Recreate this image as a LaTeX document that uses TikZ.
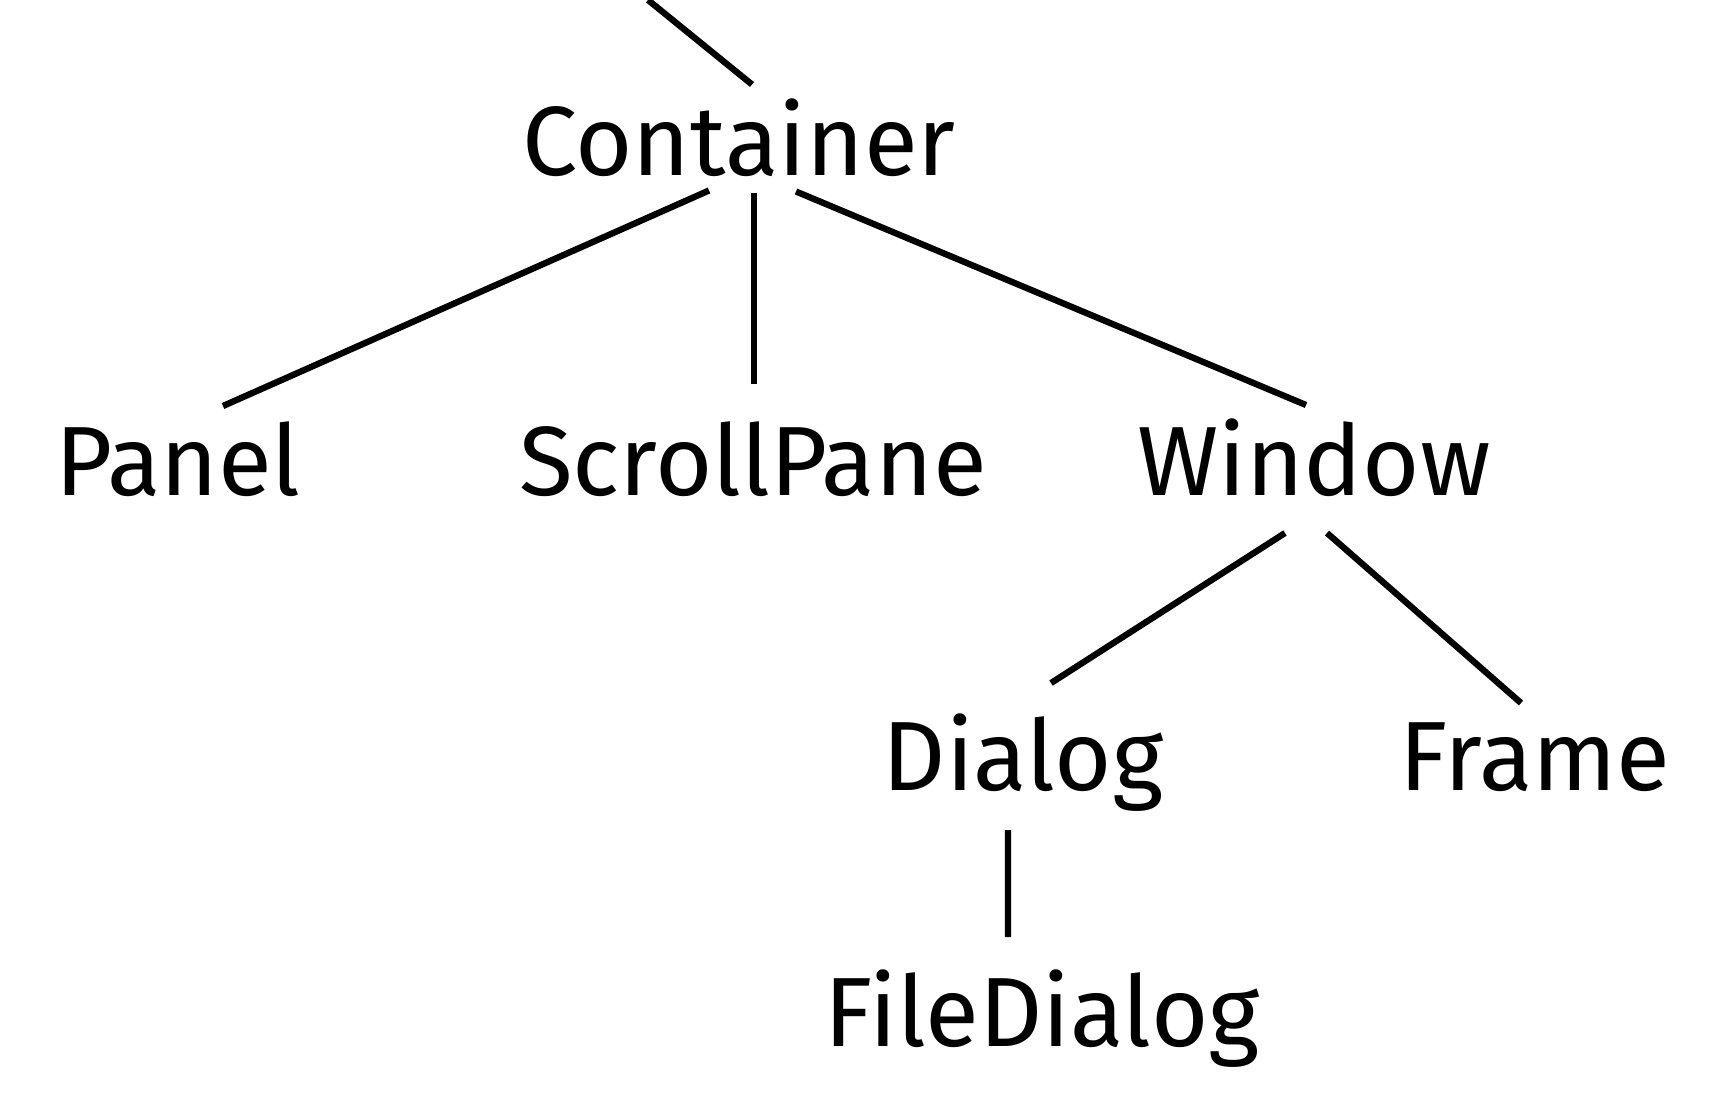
\documentclass[tikz,border=0pt]{standalone}
\usepackage{fontspec}
\setmainfont{Fira Sans}
\usetikzlibrary{positioning}

\begin{document}
\begin{tikzpicture}[font=\fontsize{28}{34}\selectfont,
  cls/.style={inner sep=0pt,anchor=base},
  ln/.style={line width=1.8pt}]
\useasboundingbox (0,0) rectangle (17.30,-11.08);
\node[cls] (cont) at (7.39,-1.75) {Container};
\node[cls] (panel) at (1.78,-4.95) {Panel};
\node[cls] (scroll) at (7.53,-4.95) {ScrollPane};
\node[cls] (win) at (13.14,-4.95) {Window};
\node[cls] (dlg) at (10.23,-7.9) {Dialog};
\node[cls] (frame) at (15.35,-7.9) {Frame};
\node[cls] (fdlg) at (10.42,-10.46) {FileDialog};
\coordinate (up) at (6.48,0);
% tree edges
\draw[ln] (up) -- ([xshift=1.3mm,yshift=9.05mm]cont.base);
\draw[ln] ([xshift=-3mm,yshift=-1.55mm]cont.base) -- ([xshift=4.5mm,yshift=8.9mm]panel.base);
\draw[ln] ([xshift=1.5mm,yshift=-1.75mm]cont.base) -- ([xshift=0.1mm,yshift=11.1mm]scroll.base);
\draw[ln] ([xshift=5.7mm,yshift=-1.65mm]cont.base) -- ([xshift=-0.8mm,yshift=9mm]win.base);
\draw[ln] ([xshift=-2.9mm,yshift=-3.8mm]win.base) -- ([xshift=2.8mm,yshift=10.7mm]dlg.base);
\draw[ln] ([xshift=1.3mm,yshift=-3.8mm]win.base) -- ([xshift=-1.4mm,yshift=8.7mm]frame.base);
\draw[ln] ([xshift=-1.5mm,yshift=-4mm]dlg.base) -- ([xshift=-3.4mm,yshift=10.9mm]fdlg.base);
\end{tikzpicture}
\end{document}
